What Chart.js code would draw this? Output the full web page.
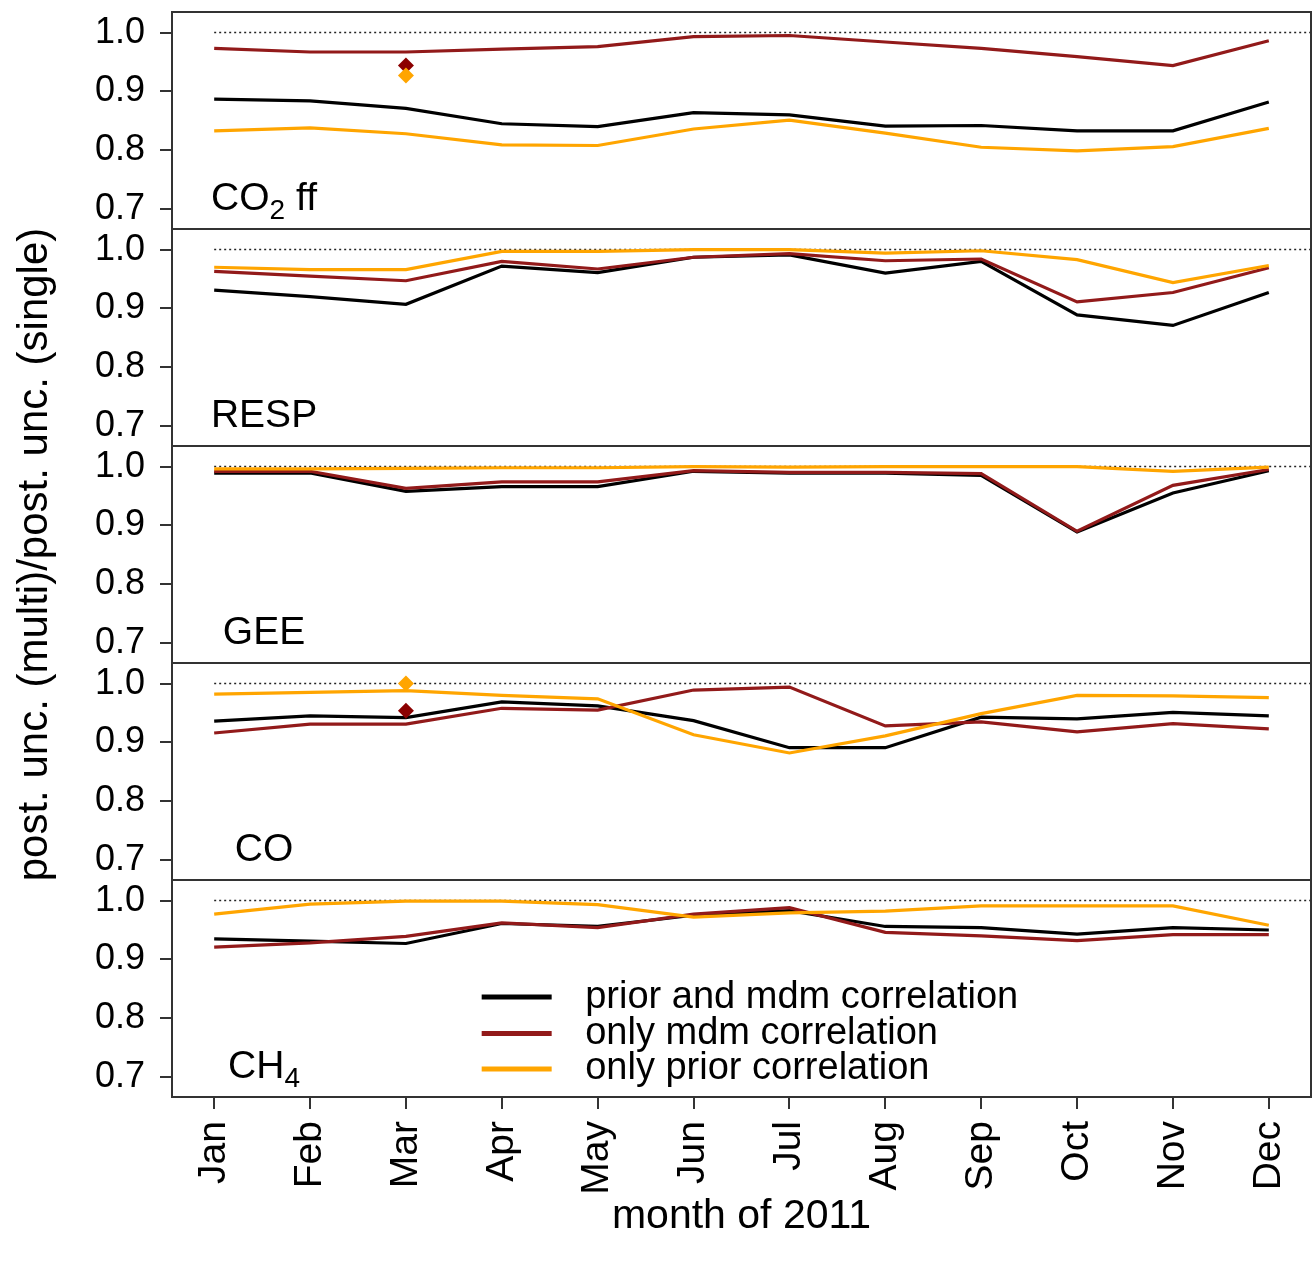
<!DOCTYPE html>
<html>
<head>
<meta charset="utf-8">
<title>post. unc. ratio 2011</title>
<script src="https://cdn.jsdelivr.net/npm/chart.js@4.4.0/dist/chart.umd.min.js"></script>
<style>
  html, body { margin: 0; padding: 0; background: #fff; overflow: hidden; }
  #wrap { width: 1314px; height: 1263px; }
  canvas { display: block; }
</style>
</head>
<body>
<div id="wrap"><canvas id="grafico" width="1314" height="1263"></canvas></div>
<script>
const months = ["Jan", "Feb", "Mar", "Apr", "May", "Jun", "Jul", "Aug", "Sep", "Oct", "Nov", "Dec"];
const yTicks = [0.7, 0.8, 0.9, 1.0];
const seriesNames = ["prior and mdm correlation", "only mdm correlation", "only prior correlation"];
const seriesColors = ["#000000", "#921a1a", "#ffa500"];

// CO2 ff
const co2ffBoth  = [0.887, 0.884, 0.871, 0.845, 0.840, 0.864, 0.860, 0.841, 0.842, 0.833, 0.833, 0.882];
const co2ffMdm   = [0.973, 0.967, 0.967, 0.972, 0.976, 0.993, 0.995, 0.984, 0.973, 0.959, 0.944, 0.986];
const co2ffPrior = [0.833, 0.838, 0.828, 0.809, 0.808, 0.836, 0.851, 0.829, 0.805, 0.799, 0.806, 0.837];
// RESP
const respBoth  = [0.931, 0.920, 0.907, 0.972, 0.961, 0.987, 0.991, 0.960, 0.980, 0.889, 0.871, 0.927];
const respMdm   = [0.963, 0.955, 0.947, 0.980, 0.967, 0.987, 0.993, 0.981, 0.984, 0.911, 0.927, 0.969];
const respPrior = [0.970, 0.966, 0.966, 0.997, 0.997, 1.000, 1.000, 0.994, 0.998, 0.983, 0.944, 0.973];
// GEE
const geeBoth  = [0.989, 0.989, 0.958, 0.966, 0.966, 0.992, 0.989, 0.989, 0.985, 0.889, 0.955, 0.993];
const geeMdm   = [0.992, 0.992, 0.963, 0.974, 0.974, 0.993, 0.990, 0.990, 0.988, 0.890, 0.968, 0.995];
const geePrior = [0.996, 0.996, 0.997, 0.998, 0.998, 1.000, 0.999, 1.000, 1.000, 1.000, 0.992, 0.999];
// CO
const coBoth  = [0.936, 0.945, 0.942, 0.969, 0.962, 0.937, 0.891, 0.891, 0.943, 0.940, 0.951, 0.945];
const coMdm   = [0.916, 0.931, 0.931, 0.958, 0.955, 0.989, 0.994, 0.928, 0.935, 0.918, 0.932, 0.923];
const coPrior = [0.982, 0.985, 0.988, 0.980, 0.974, 0.913, 0.882, 0.911, 0.949, 0.980, 0.979, 0.976];
// CH4
const ch4Both  = [0.935, 0.931, 0.927, 0.961, 0.956, 0.975, 0.983, 0.956, 0.954, 0.943, 0.954, 0.950];
const ch4Mdm   = [0.921, 0.928, 0.939, 0.962, 0.954, 0.977, 0.988, 0.946, 0.940, 0.932, 0.942, 0.942];
const ch4Prior = [0.977, 0.994, 0.999, 0.999, 0.993, 0.972, 0.979, 0.982, 0.991, 0.991, 0.991, 0.958];

// single markers in March (mdm, prior)
const markerMonth = "Mar";
const co2ffMarkers = [0.944, 0.927];
const coMarkers = [0.954, 1.000];

const refValue = 1.0;
const xMin = -0.44, xMax = 11.44;
const yMin = 0.666, yMax = 1.035;

const FONT = "'Liberation Sans', Arial, Helvetica, sans-serif";
Chart.defaults.font.family = FONT;
Chart.defaults.color = "#000";

// panels top to bottom
const panels = [
    { id: "yCO2",  label: ["CO", "2", " ff"], series: [co2ffBoth, co2ffMdm, co2ffPrior], markers: co2ffMarkers },
    { id: "yRESP", label: ["RESP"],           series: [respBoth, respMdm, respPrior] },
    { id: "yGEE",  label: ["GEE"],            series: [geeBoth, geeMdm, geePrior] },
    { id: "yCO",   label: ["CO"],             series: [coBoth, coMdm, coPrior], markers: coMarkers },
    { id: "yCH4",  label: ["CH", "4"],        series: [ch4Both, ch4Mdm, ch4Prior] }
];

const datasets = [];
const scales = {
    x: {
        type: "linear",
        min: xMin,
        max: xMax,
        afterBuildTicks: s => { s.ticks = months.map((m, i) => ({ value: i })); },
        afterFit: s => { s.height = 166; s.paddingLeft = 0; s.paddingRight = 0; },
        ticks: {
            callback: v => months[v],
            autoSkip: false,
            minRotation: 90,
            maxRotation: 90,
            padding: 12,
            font: { size: 39 }
        },
        grid: { drawOnChartArea: false, drawTicks: true, tickLength: 12, color: "#333", lineWidth: 2 },
        border: { display: false },
        title: { display: true, text: "month of 2011", font: { size: 41 }, padding: { top: 0, bottom: 22 } }
    }
};

// stacked scales are laid out from the last one defined, so add them bottom-up
panels.slice().reverse().forEach(p => {
    scales[p.id] = {
        type: "linear",
        position: "left",
        stack: "panels",
        stackWeight: 1,
        min: yMin,
        max: yMax,
        afterBuildTicks: s => { s.ticks = yTicks.map(v => ({ value: v })); },
        afterFit: s => { s.width = 172; s.paddingTop = 0; s.paddingBottom = 0; },
        ticks: { callback: v => v.toFixed(1), autoSkip: false, padding: 15, font: { size: 36 } },
        grid: { drawOnChartArea: false, drawTicks: true, tickLength: 12, color: "#333", lineWidth: 2 },
        border: { display: false },
        title: p.id === "yGEE"
            ? { display: true, text: "post. unc. (multi)/post. unc. (single)", font: { size: 42 }, padding: { top: 10, bottom: 0 } }
            : { display: false }
    };
});

panels.forEach(p => {
    // dotted reference line at 1.0
    datasets.push({
        data: [{ x: 0, y: refValue }, { x: xMax, y: refValue }],
        yAxisID: p.id,
        borderColor: "#222",
        borderWidth: 1.5,
        borderDash: [2, 3],
        pointRadius: 0,
        order: 4
    });

    p.series.forEach((vals, j) => {
        datasets.push({
            label: seriesNames[j],
            data: vals.map((v, i) => ({ x: i, y: v })),
            yAxisID: p.id,
            borderColor: seriesColors[j],
            borderWidth: 3.2,
            pointRadius: 0,
            tension: 0,
            order: 3 - j
        });
    });

    if (p.markers) {
        const mi = months.indexOf(markerMonth);
        datasets.push({
            data: [{ x: mi, y: p.markers[0] }],
            yAxisID: p.id,
            showLine: false,
            pointStyle: "rectRot",
            pointRadius: 8,
            pointBackgroundColor: "#8b0000",
            pointBorderWidth: 0,
            order: 0
        });
        datasets.push({
            data: [{ x: mi, y: p.markers[1] }],
            yAxisID: p.id,
            showLine: false,
            pointStyle: "rectRot",
            pointRadius: 8,
            pointBackgroundColor: "#ffa500",
            pointBorderWidth: 0,
            order: -1
        });
    }
});

// panel frames, panel names and the legend
const panelDecor = {
    id: "panelDecor",
    afterDatasetsDraw(chart) {
        const ctx = chart.ctx;
        const area = chart.chartArea;
        const xs = chart.scales.x;
        ctx.save();
        ctx.strokeStyle = "#333";
        ctx.lineWidth = 2;
        panels.forEach(p => {
            const ys = chart.scales[p.id];
            ctx.strokeRect(area.left, ys.top, area.right - area.left, ys.bottom - ys.top);

            // panel name, centred
            const big = "39px " + FONT, small = "28px " + FONT;
            let w = 0;
            const parts = p.label.map((t, i) => {
                ctx.font = i === 1 ? small : big;
                const pw = ctx.measureText(t).width;
                w += pw;
                return pw;
            });
            let x = xs.getPixelForValue(0.52) - w / 2;
            const y = ys.getPixelForValue(0.699);
            ctx.fillStyle = "#000";
            ctx.textBaseline = "alphabetic";
            ctx.textAlign = "left";
            p.label.forEach((t, i) => {
                ctx.font = i === 1 ? small : big;
                ctx.fillText(t, x, i === 1 ? y + 9 : y);
                x += parts[i];
            });
        });

        // legend inside the CH4 panel
        const ly = chart.scales.yCH4;
        const rows = [0.836, 0.774, 0.7136];
        ctx.font = "38px " + FONT;
        ctx.textBaseline = "middle";
        seriesNames.forEach((name, j) => {
            const y = ly.getPixelForValue(rows[j]);
            ctx.strokeStyle = seriesColors[j];
            ctx.lineWidth = 5;
            ctx.beginPath();
            ctx.moveTo(xs.getPixelForValue(2.79), y);
            ctx.lineTo(xs.getPixelForValue(3.52), y);
            ctx.stroke();
            ctx.fillStyle = "#000";
            ctx.fillText(name, xs.getPixelForValue(3.87), y);
        });
        ctx.restore();
    }
};

const ctx = document.getElementById("grafico").getContext("2d");
new Chart(ctx, {
    type: "line",
    data: { datasets: datasets },
    options: {
        responsive: false,
        animation: false,
        layout: { autoPadding: false, padding: { top: 12, right: 3, left: 0, bottom: 0 } },
        plugins: {
            legend: { display: false },
            tooltip: { enabled: false }
        },
        scales: scales
    },
    plugins: [panelDecor]
});
</script>
</body>
</html>
